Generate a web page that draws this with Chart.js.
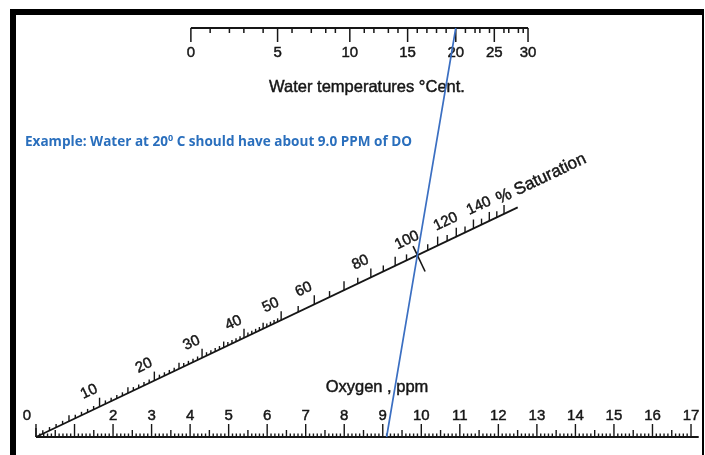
<!DOCTYPE html>
<html>
<head>
<meta charset="utf-8">
<script src="https://cdn.jsdelivr.net/npm/chart.js@4"></script>
<style>
  html, body { margin: 0; padding: 0; background: #fff; }
  #wrap { width: 705px; height: 455px; }
</style>
</head>
<body>
<div id="wrap"><canvas id="myChart" width="705" height="455"></canvas></div>
<script>
// Oxygen scale (ppm) along the bottom
const oxygenEnd = 17.2;
const oxygenLabels = [2, 3, 4, 5, 6, 7, 8, 9, 10, 11, 12, 13, 14, 15, 16, 17];

// % saturation scale, the slanted one
const satLabels = [0, 10, 20, 30, 40, 50, 60, 80, 100, 120, 140];
const satEnd = 160;

// Water temperature (°C) along the top
const tempLabels = [0, 5, 10, 15, 20, 25, 30];
// oxygen (ppm) at 100 % saturation, one value per degree 0..30
const tempDO = [14.6, 14.2, 13.8, 13.5, 13.1, 12.8, 12.5, 12.1, 11.8, 11.6,
                11.3, 11.0, 10.8, 10.5, 10.3, 10.1, 9.9, 9.7, 9.5, 9.3,
                9.1, 8.9, 8.7, 8.6, 8.4, 8.3, 8.1, 8.0, 7.8, 7.7, 7.6];

// Example reading
const exampleTemp = 20;
const exampleSat = 100;

// nomogram construction: saturation s sits at s/(s+satC) of the way from
// the 0 point to satInfX on the top line
const satC = 125;
const satInfX = 22.27;

const satFrac = s => s / (s + satC);
const satPoint = s => ({ x: satFrac(s) * satInfX, y: satFrac(s) });
const tempX = t => satInfX - tempDO[t] * satC / 100;

const exampleLine = [
  { x: tempX(exampleTemp), y: 1 },
  satPoint(exampleSat),
  { x: tempDO[exampleTemp], y: 0 },
];

const ink = '#161616';
const face = '"Liberation Sans", Arial, sans-serif';
const numFont = '15px ' + face;
const titleFont = '16.5px ' + face;

const nomogram = {
  id: 'nomogram',
  beforeDatasetsDraw(chart) {
    const { ctx } = chart;
    const xs = chart.scales.x;
    const ys = chart.scales.y;
    const px = v => xs.getPixelForValue(v);
    const py = v => ys.getPixelForValue(v);

    ctx.save();
    ctx.strokeStyle = ink;
    ctx.fillStyle = ink;
    ctx.lineCap = 'butt';

    const seg = (x1, y1, x2, y2, w) => {
      ctx.lineWidth = w;
      ctx.beginPath();
      ctx.moveTo(x1, y1);
      ctx.lineTo(x2, y2);
      ctx.stroke();
    };
    // scanned print looks a bit heavier than plain canvas text
    const text = (str, x, y) => {
      ctx.lineWidth = 0.45;
      ctx.fillText(str, x, y);
      ctx.strokeText(str, x, y);
    };

    // frame
    ctx.fillStyle = '#000';
    ctx.fillRect(10, 9, 694, 6);
    ctx.fillRect(10, 9, 6, 446);
    ctx.fillRect(702, 9, 2, 446);
    ctx.fillStyle = ink;

    // bottom oxygen scale
    const y0 = py(0);
    seg(px(0), y0, px(oxygenEnd), y0, 2.2);
    for (let i = 0; i <= 170; i++) {
      const v = i / 10;
      const len = i % 10 === 0 ? 13 : (i % 5 === 0 ? 7 : 3.5);
      seg(px(v), y0, px(v), y0 - len, 1.4);
    }
    ctx.font = numFont;
    ctx.textAlign = 'center';
    ctx.textBaseline = 'alphabetic';
    oxygenLabels.forEach(v => text(String(v), px(v), y0 - 17));
    ctx.font = titleFont;
    text('Oxygen , ppm', px(8.85), y0 - 45);

    // top temperature scale
    const y1 = py(1);
    seg(px(tempX(0)), y1, px(tempX(30)), y1, 2.2);
    tempDO.forEach((d, t) => {
      const len = t % 5 === 0 ? 14 : 5;
      seg(px(tempX(t)), y1, px(tempX(t)), y1 + len, 1.5);
    });
    ctx.font = numFont;
    ctx.textBaseline = 'middle';
    tempLabels.forEach(t => text(String(t), px(tempX(t)), y1 + 25));
    ctx.font = titleFont;
    text('Water temperatures \u00B0Cent.', 367, y1 + 59);

    // slanted saturation scale
    const a = satPoint(0);
    const b = satPoint(satEnd);
    const ax = px(a.x), ay = py(a.y), bx = px(b.x), by = py(b.y);
    const ang = Math.atan2(by - ay, bx - ax);
    const nx = Math.sin(ang), ny = -Math.cos(ang);
    const tx = Math.cos(ang), ty = Math.sin(ang);
    seg(ax, ay, bx, by, 1.8);

    const satTicks = [];
    for (let s = 0; s <= 50; s++) satTicks.push(s);
    for (let s = 55; s <= 150; s += 5) satTicks.push(s);
    satTicks.forEach(s => {
      const p = satPoint(s);
      const x = px(p.x), y = py(p.y);
      let len = 3.5;
      if (s % 10 === 0) len = 9;
      else if (s % 5 === 0) len = 6;
      if (s === 100) {
        seg(x + nx * 10, y + ny * 10, x - nx * 18, y - ny * 18, 1.6);
      } else {
        seg(x, y, x, y - len, 1.4);
      }
    });

    ctx.font = numFont;
    ctx.textAlign = 'center';
    ctx.textBaseline = 'middle';
    satLabels.forEach(s => {
      const p = satPoint(s);
      let x = px(p.x) + nx * 18 - tx * 3;
      let y = py(p.y) + ny * 18 - ty * 3;
      if (s === 0) { x = px(p.x) - 9; y = py(p.y) - 21; }
      ctx.save();
      ctx.translate(x, y);
      if (s > 0) ctx.rotate(ang);
      text(String(s), 0, 0);
      ctx.restore();
    });

    const q = satPoint(150);
    ctx.save();
    ctx.translate(px(q.x) + nx * 11, py(q.y) + ny * 11);
    ctx.rotate(ang);
    ctx.font = '17px ' + face;
    ctx.textAlign = 'left';
    ctx.textBaseline = 'alphabetic';
    text('% Saturation', 0, 0);
    ctx.restore();

    // example note
    const note1 = 'Example: Water at 20';
    const note2 = ' C should have about 9.0 PPM of DO';
    const bold = size => 'bold ' + size + 'px "Open Sans", sans-serif';
    ctx.fillStyle = '#2a6fbd';
    ctx.textAlign = 'left';
    ctx.textBaseline = 'alphabetic';
    ctx.font = bold(13.5);
    const w1 = ctx.measureText(note1).width;
    const w2 = ctx.measureText(note2).width;
    ctx.font = bold(9);
    const wSup = ctx.measureText('0').width;
    const k = 387 / (w1 + wSup + w2);
    ctx.save();
    ctx.translate(25, 146);
    ctx.scale(k, 1);
    ctx.font = bold(13.5);
    ctx.fillText(note1, 0, 0);
    ctx.font = bold(9);
    ctx.fillText('0', w1, -5.5);
    ctx.font = bold(13.5);
    ctx.fillText(note2, w1 + wSup, 0);
    ctx.restore();

    ctx.restore();
  }
};

const chart = new Chart(document.getElementById('myChart'), {
  type: 'scatter',
  data: {
    datasets: [
      {
        label: 'Example',
        data: exampleLine,
        showLine: true,
        borderColor: '#3b6fc2',
        borderWidth: 1.7,
        pointRadius: 0,
      },
    ],
  },
  options: {
    responsive: false,
    animation: false,
    events: [],
    layout: { padding: 0 },
    plugins: {
      legend: { display: false },
      tooltip: { enabled: false },
    },
    scales: {
      x: { type: 'linear', display: false, min: -0.934, max: 17.363 },
      y: { type: 'linear', display: false, min: -0.044, max: 1.0685 },
    },
  },
  plugins: [nomogram],
});
</script>
</body>
</html>
